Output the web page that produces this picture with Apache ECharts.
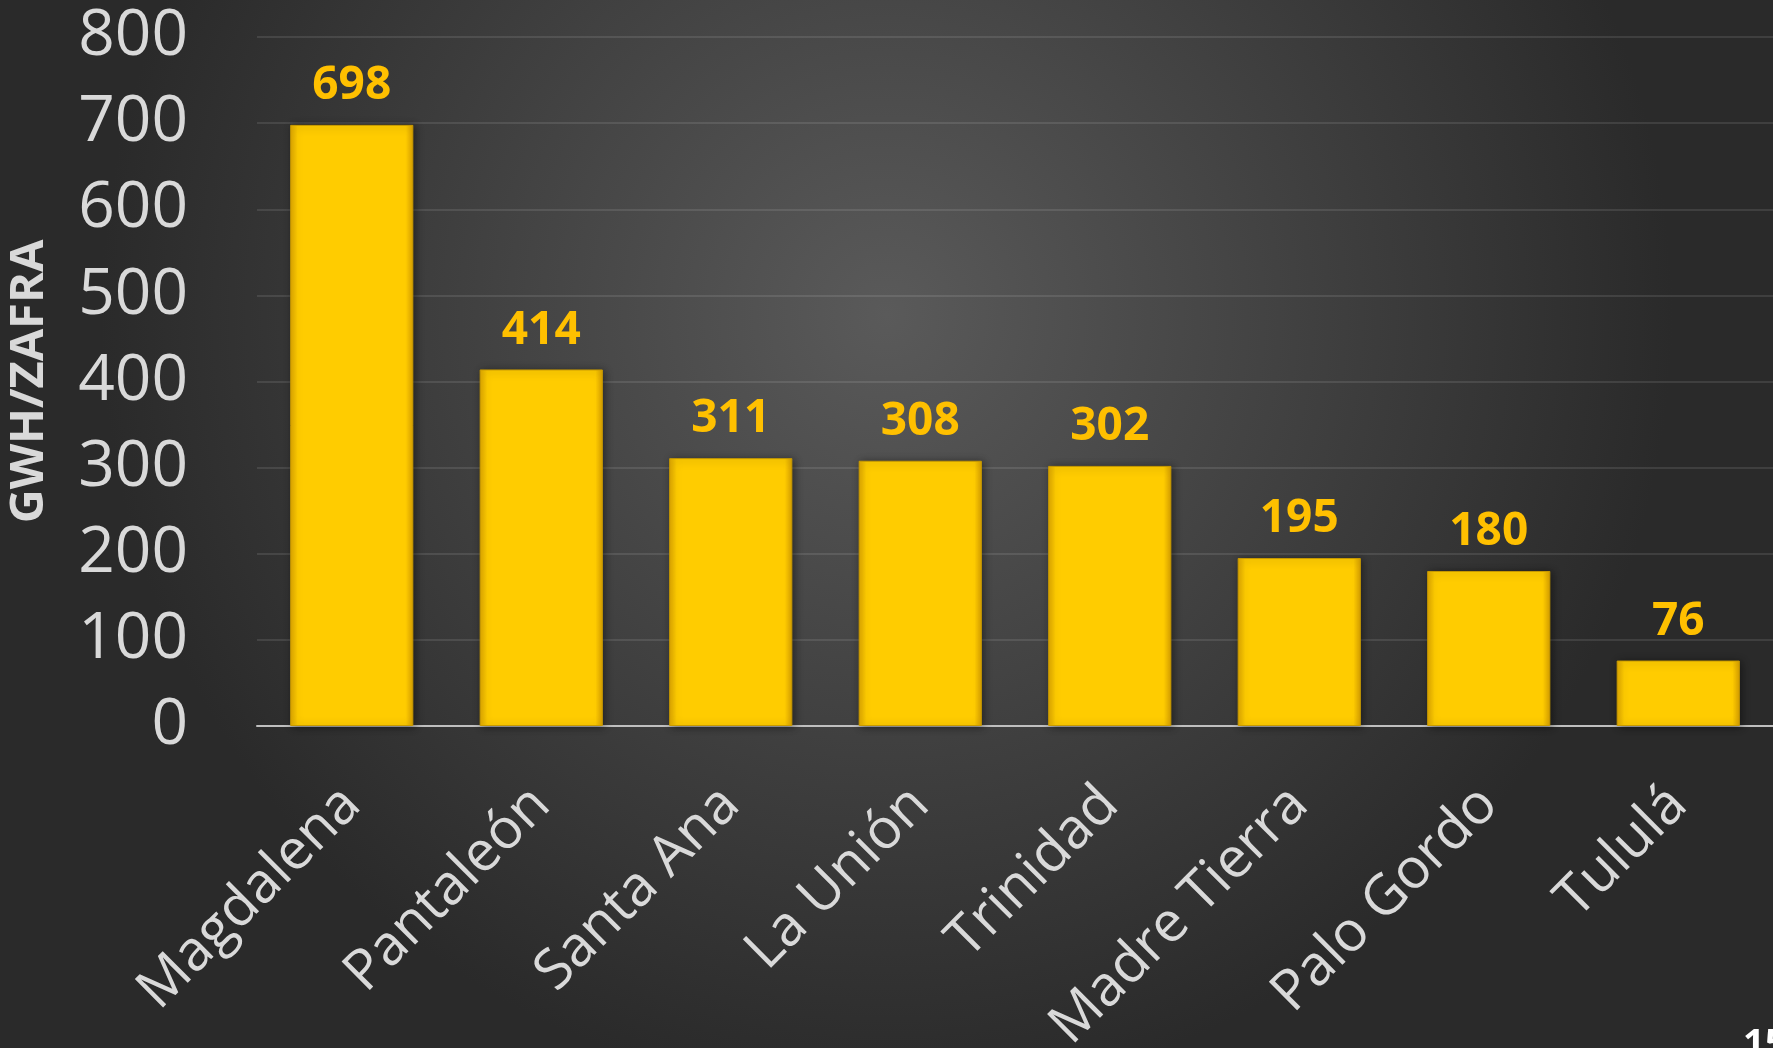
<!DOCTYPE html>
<html>
<head>
<meta charset="utf-8">
<script src="https://cdn.jsdelivr.net/npm/echarts@6/dist/echarts.min.js"></script>
<style>
  html, body { margin: 0; padding: 0; background: #333; }
  #main { width: 1773px; height: 1048px; }
</style>
</head>
<body>
<div id="main"></div>
<script>
// ingenios y su generación por zafra
var ingenios = ['Magdalena', 'Pantaleón', 'Santa Ana', 'La Unión', 'Trinidad', 'Madre Tierra', 'Palo Gordo', 'Tululá'];
var gwh = [698, 414, 311, 308, 302, 195, 180, 76];
var yTicks = [0, 100, 200, 300, 400, 500, 600, 700, 800];

var chart = echarts.init(document.getElementById('main'));

var option = {
  backgroundColor: {
    type: 'radial', x: 0.5, y: 0.3, r: 0.75,
    colorStops: [
      { offset: 0, color: '#5a5a5a' },
      { offset: 1, color: '#2a2a2a' }
    ]
  },
  grid: {
    left: 257,
    right: 0,
    top: 37,
    bottom: 322,
    containLabel: false,
    outerBoundsMode: 'none'
  },
  xAxis: {
    type: 'category',
    data: ingenios,
    axisTick: { show: false },
    axisLine: { lineStyle: { color: '#bfbfbf', width: 2 } },
    axisLabel: {
      rotate: 45,
      interval: 0,
      margin: 70,
      color: '#d9d9d9',
      fontFamily: 'Open Sans',
      fontSize: 56
    }
  },
  yAxis: {
    type: 'value',
    min: yTicks[0],
    max: yTicks[yTicks.length - 1],
    interval: 100,
    name: 'GWH/ZAFRA',
    nameLocation: 'middle',
    nameGap: 204,
    nameTextStyle: {
      color: '#d9d9d9',
      fontFamily: 'Open Sans',
      fontWeight: 'bold',
      fontSize: 47
    },
    axisLine: { show: false },
    axisTick: { show: false },
    splitLine: { lineStyle: { color: 'rgba(255,255,255,0.1)', width: 2 } },
    axisLabel: {
      margin: 69,
      color: '#d9d9d9',
      fontFamily: 'Open Sans',
      fontSize: 64
    }
  },
  series: [{
    type: 'bar',
    data: gwh,
    barWidth: '65%',
    itemStyle: {
      color: {
        type: 'linear', x: 0, y: 0, x2: 1, y2: 0,
        colorStops: [
          { offset: 0, color: '#e0a800' },
          { offset: 0.06, color: '#ffcc00' },
          { offset: 0.94, color: '#ffcc00' },
          { offset: 1, color: '#d9a000' }
        ]
      },
      borderColor: '#c89a00',
      borderWidth: 1,
      shadowColor: 'rgba(0,0,0,0.45)',
      shadowBlur: 8,
      shadowOffsetX: 2,
      shadowOffsetY: 1
    },
    label: {
      show: true,
      position: 'top',
      distance: 16,
      color: '#ffc000',
      fontFamily: 'Open Sans',
      fontWeight: 'bold',
      fontSize: 46
    }
  }],
  graphic: [{
    type: 'text',
    left: 1743,
    top: 1026,
    style: {
      text: '15',
      fill: '#ffffff',
      font: 'bold 38px "Open Sans"'
    }
  }]
};

chart.setOption(option);
</script>
</body>
</html>
